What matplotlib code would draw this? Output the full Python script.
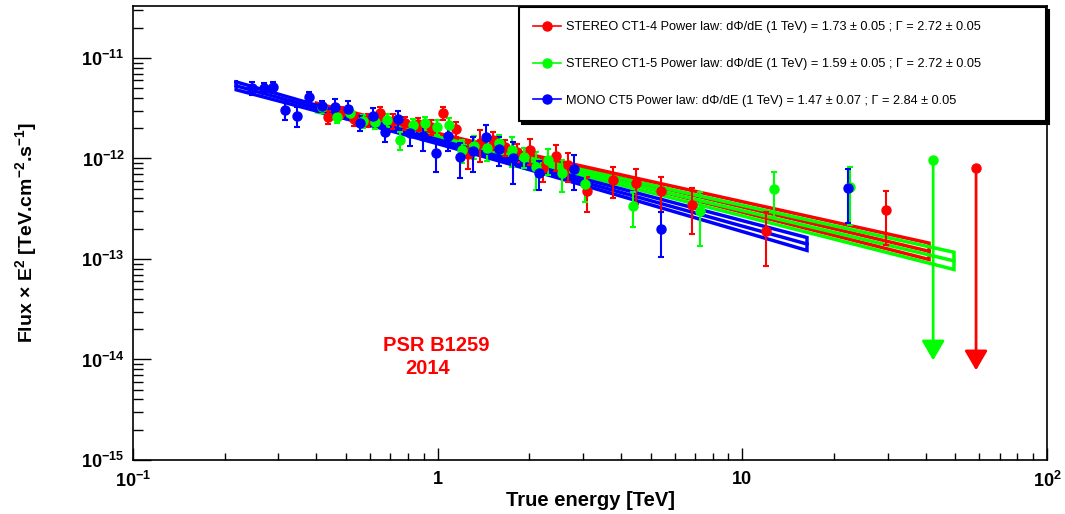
import numpy as np
import matplotlib
matplotlib.use('Agg')
import matplotlib.pyplot as plt
from matplotlib.lines import Line2D
from matplotlib.ticker import LogLocator, FixedLocator, FixedFormatter, NullFormatter

plt.rcParams['font.family'] = ['Liberation Sans', 'DejaVu Sans']
plt.rcParams['font.weight'] = 'bold'
plt.rcParams['mathtext.fontset'] = 'custom'
plt.rcParams['mathtext.rm'] = 'Liberation Sans:bold'
plt.rcParams['mathtext.default'] = 'rm'

# --- data (E in TeV, E^2 flux in 1e-12 TeV cm-2 s-1) ---
red_E = [0.436, 0.481, 0.531, 0.589, 0.646, 0.711, 0.780, 0.859, 0.948, 1.038, 1.146, 1.254, 1.373,
         1.514, 1.659, 1.815, 2.003, 2.21, 2.44, 2.67, 3.08, 3.75, 4.49, 5.42, 6.85, 12.0, 29.7]
red_F = [2.59, 2.90, 2.47, 2.42, 2.84, 2.36, 2.25, 2.20, 2.06, 2.84, 1.97, 1.11, 1.43,
         1.53, 1.30, 1.16, 1.22, 0.80, 1.06, 0.86, 0.475, 0.611, 0.570, 0.475, 0.344, 0.190, 0.308]
red_err = [0.38, 0.36, 0.36, 0.35, 0.41, 0.40, 0.33, 0.32, 0.35, 0.42, 0.34, 0.32, 0.50,
           0.31, 0.23, 0.23, 0.35, 0.21, 0.31, 0.27, 0.18, 0.21, 0.22, 0.18, 0.165, 0.105, 0.17]

green_E = [0.417, 0.467, 0.515, 0.568, 0.621, 0.680, 0.750, 0.828, 0.906, 0.993, 1.087, 1.199, 1.312,
           1.448, 1.585, 1.749, 1.914, 2.11, 2.31, 2.55, 3.05, 4.36, 7.28, 12.7, 22.6]
green_F = [3.25, 2.59, 2.84, 2.36, 2.31, 2.42, 1.53, 2.15, 2.25, 2.06, 2.15, 1.22, 1.33,
           1.27, 1.43, 1.22, 1.04, 0.822, 0.966, 0.718, 0.557, 0.336, 0.30, 0.497, 0.52]
green_err = [0.40, 0.35, 0.38, 0.35, 0.35, 0.37, 0.31, 0.33, 0.35, 0.35, 0.40, 0.32, 0.35,
             0.33, 0.29, 0.40, 0.24, 0.34, 0.28, 0.25, 0.19, 0.13, 0.165, 0.24, 0.30]

blue_E = [0.245, 0.269, 0.288, 0.315, 0.345, 0.378, 0.417, 0.459, 0.507, 0.555, 0.612, 0.670, 0.740,
          0.809, 0.893, 0.985, 1.078, 1.181, 1.302, 1.437, 1.585, 1.762, 2.144, 2.81, 5.42, 22.3]
blue_F = [5.03, 5.03, 5.14, 3.04, 2.65, 4.09, 3.33, 3.25, 3.11, 2.25, 2.65, 1.84, 2.47,
          1.79, 1.67, 1.13, 1.67, 1.04, 1.19, 1.64, 1.25, 1.01, 0.718, 0.787, 0.199, 0.508]
blue_err = [0.74, 0.61, 0.62, 0.61, 0.61, 0.49, 0.40, 0.65, 0.62, 0.38, 0.53, 0.37, 0.50,
            0.47, 0.48, 0.39, 0.48, 0.40, 0.45, 0.52, 0.40, 0.45, 0.23, 0.30, 0.095, 0.28]

# upper limits: (E, value, arrow end) in 1e-12 units
red_ul = (58.5, 0.80, 0.0078)
green_ul = (42.3, 0.966, 0.0098)

# power-law fits: norm at 1 TeV (1e-12), error, index, error, energy range
fit_norm = [1.73, 1.59, 1.47]
fit_norm_err = [0.05, 0.05, 0.07]
fit_index = [2.72, 2.72, 2.84]
fit_index_err = [0.05, 0.05, 0.05]
fit_range = [(0.40, 41.0), (0.40, 49.5), (0.218, 16.3)]
labels = ['STEREO CT1-4 Power law: d\u03a6/dE (1 TeV) = 1.73 \u00b1 0.05 ; \u0393 = 2.72 \u00b1 0.05',
          'STEREO CT1-5 Power law: d\u03a6/dE (1 TeV) = 1.59 \u00b1 0.05 ; \u0393 = 2.72 \u00b1 0.05',
          'MONO CT5 Power law: d\u03a6/dE (1 TeV) = 1.47 \u00b1 0.07 ; \u0393 = 2.84 \u00b1 0.05']
colors = ['#ff0000', '#00ff00', '#0000ff']

fig = plt.figure(figsize=(10.65, 5.14), dpi=100)
ax = fig.add_axes([0.1249, 0.1051, 0.9831 - 0.1249, 0.9883 - 0.1051])

# fit bands
for i in range(3):
    e = np.logspace(np.log10(fit_range[i][0]), np.log10(fit_range[i][1]), 100)
    lf = np.log10(fit_norm[i] * 1e-12) + (2 - fit_index[i]) * np.log10(e)
    d = np.sqrt((fit_norm_err[i] / fit_norm[i] / np.log(10)) ** 2 + (fit_index_err[i] * np.log10(e)) ** 2)
    up = 10 ** (lf + d)
    lo = 10 ** (lf - d)
    ax.plot(np.concatenate([e, e[::-1], e[:1]]), np.concatenate([up, lo[::-1], up[:1]]),
            color=colors[i], lw=2.5, solid_joinstyle='miter')
    ax.plot(e, 10 ** lf, color=colors[i], lw=2.5)

# data points
for E, F, err, c in [(red_E, red_F, red_err, colors[0]),
                     (green_E, green_F, green_err, colors[1]),
                     (blue_E, blue_F, blue_err, colors[2])]:
    ax.errorbar(E, np.array(F) * 1e-12, yerr=np.array(err) * 1e-12, fmt='o', color=c,
                ms=6.5, elinewidth=1.5, capsize=2.5, capthick=1.5)

# upper limits
for ul, c in [(green_ul, colors[1]), (red_ul, colors[0])]:
    ax.plot(ul[0], ul[1] * 1e-12, 'o', color=c, ms=6.5)
    ax.annotate('', xy=(ul[0], ul[2] * 1e-12), xytext=(ul[0], ul[1] * 1e-12),
                arrowprops=dict(arrowstyle='-|>,head_length=1.2,head_width=0.7', color=c, lw=2,
                                shrinkA=0, shrinkB=0))

ax.set_xscale('log')
ax.set_yscale('log')
ax.set_xlim(0.1, 100)
ax.set_ylim(1e-15, 3.29e-11)

ax.xaxis.set_major_locator(FixedLocator([0.1, 1, 10, 100]))
ax.xaxis.set_major_formatter(FixedFormatter([r'$10^{-1}$', '1', '10', r'$10^{2}$']))
ax.xaxis.set_minor_locator(LogLocator(base=10, subs=np.arange(2, 10)))
ax.xaxis.set_minor_formatter(NullFormatter())
ax.yaxis.set_major_locator(FixedLocator([1e-15, 1e-14, 1e-13, 1e-12, 1e-11]))
ax.yaxis.set_major_formatter(FixedFormatter([r'$10^{-15}$', r'$10^{-14}$', r'$10^{-13}$',
                                             r'$10^{-12}$', r'$10^{-11}$']))
ax.yaxis.set_minor_locator(LogLocator(base=10, subs=np.arange(2, 10)))
ax.yaxis.set_minor_formatter(NullFormatter())
ax.tick_params(which='both', direction='in', labelsize=13, width=1)
ax.tick_params(axis='x', which='major', length=9, pad=8)
ax.tick_params(axis='x', which='minor', length=5)
ax.tick_params(axis='y', which='major', length=13, pad=6)
ax.tick_params(axis='y', which='minor', length=7)
for s in ax.spines.values():
    s.set_linewidth(1.2)

ax.set_xlabel('True energy [TeV]', fontsize=14.5, fontweight='bold', labelpad=0)
ax.set_ylabel(r'Flux $\times$ E$^{2}$ [TeV.cm$^{-2}$.s$^{-1}$]', fontsize=14, fontweight='bold', labelpad=30)

ax.text(0.66, 1.39e-14, 'PSR B1259', color='red', fontsize=14.5, fontweight='bold', va='center')
ax.text(0.78, 8.2e-15, '2014', color='red', fontsize=14.5, fontweight='bold', va='center')

handles = [Line2D([], [], color=c, marker='o', ms=6.5, lw=1.2) for c in colors]
leg = ax.legend(handles, labels, loc='upper left',
                bbox_to_anchor=(519 / 1065, 1 - 7 / 514 - 0.01, (1046 - 519) / 1065, 0.01),
                bbox_transform=fig.transFigure, mode='expand', borderaxespad=0,
                fancybox=False, framealpha=1, edgecolor='black',
                prop={'weight': 'normal', 'size': 9.2}, labelspacing=1.95, borderpad=1.1,
                handlelength=2.2, handletextpad=0.4,
                shadow={'color': 'black', 'alpha': 1})
leg.get_frame().set_linewidth(1.5)

fig.savefig('out.png', dpi=100)
